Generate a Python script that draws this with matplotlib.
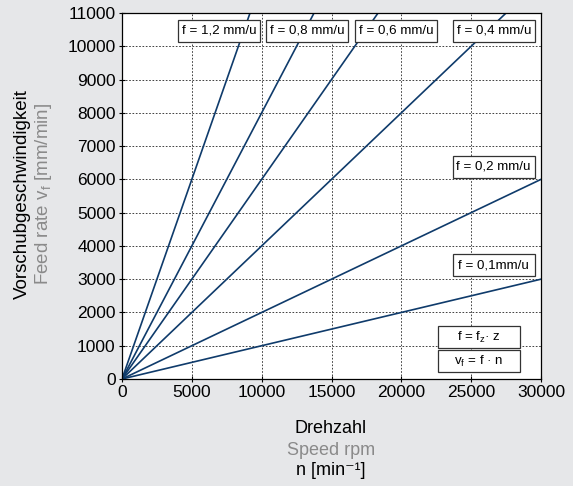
import numpy as np
import matplotlib.pyplot as plt
from matplotlib.patches import Rectangle

plt.rcParams['font.family'] = ['Liberation Sans', 'DejaVu Sans']

# feed per revolution [mm/u]
feeds = [0.1, 0.2, 0.4, 0.6, 0.8, 1.2]
speed = np.array([0, 30000])

# label text and placement (data coords)
labels = ['f = 0,1mm/u', 'f = 0,2 mm/u', 'f = 0,4 mm/u',
          'f = 0,6 mm/u', 'f = 0,8 mm/u', 'f = 1,2 mm/u']
label_x = [26600, 26600, 26630, 19620, 13280, 6945]
label_y = [3425, 6385, 10460, 10460, 10460, 10460]

formulas = [r'f = f$_\mathregular{z}$· z', r'v$_\mathregular{f}$ = f · n']
formula_x = [25560, 25560]
formula_y = [1262, 541]

bg = '#e6e7e9'
navy = '#0f3b6b'

fig = plt.figure(figsize=(5.73, 4.86), dpi=100, facecolor=bg)
ax = fig.add_axes([122/573, 1-379/486, 419/573, 366/486])

for f in feeds:
    ax.plot(speed, f*speed, color=navy, lw=1.2)

ax.set_xlim(0, 30000)
ax.set_ylim(0, 11000)
ax.set_xticks(np.arange(0, 30001, 5000))
ax.set_yticks(np.arange(0, 11001, 1000))
ax.tick_params(direction='inout', length=5, labelsize=12.5, width=0.8, pad=2)
ax.grid(True, color='#222222', linestyle=(0, (2, 2)), linewidth=0.6)
for s in ax.spines.values():
    s.set_linewidth(0.9)

# all boxes share one size (82 x 22 px)
bw, bh = 82*30000/419, 22*11000/366


def boxed(x, y, t):
    ax.add_patch(Rectangle((x - bw/2, y - bh/2), bw, bh, facecolor='white',
                           edgecolor='#333333', linewidth=0.9, zorder=5))
    ax.text(x, y, t, ha='center', va='center', fontsize=9.6, zorder=6)


for t, x, y in zip(labels, label_x, label_y):
    boxed(x, y, t)
for t, x, y in zip(formulas, formula_x, formula_y):
    boxed(x, y, t)

fig.text(22/573, 1-194/486, 'Vorschubgeschwindigkeit', rotation=90, ha='center', va='center', fontsize=13.5)
fig.text(44/573, 1-194/486, r'Feed rate v$_\mathregular{f}$ [mm/min]', rotation=90, ha='center', va='center',
         fontsize=13.5, color='#8a8a8a')

fig.text(331/573, 1-428/486, 'Drehzahl', ha='center', va='center', fontsize=13)
fig.text(331/573, 1-450/486, 'Speed rpm', ha='center', va='center', fontsize=13, color='#8a8a8a')
fig.text(331/573, 1-470/486, 'n [min⁻¹]', ha='center', va='center', fontsize=13)

fig.savefig('out.png', dpi=100, facecolor=bg)
